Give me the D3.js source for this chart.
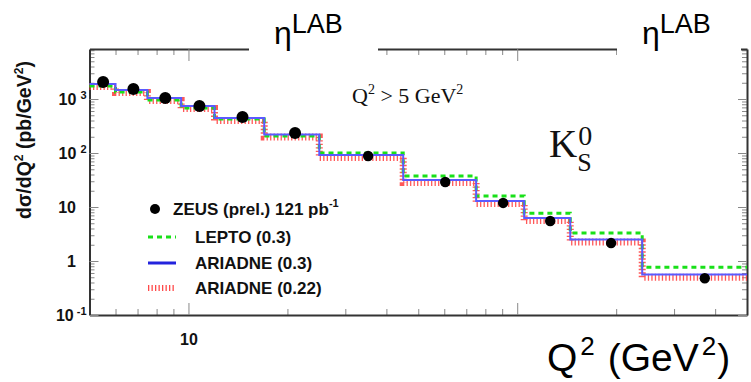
<!DOCTYPE html>
<html>
<head>
<meta charset="utf-8">
<script src="https://cdn.jsdelivr.net/npm/d3@7"></script>
<style>
  html, body { margin: 0; padding: 0; background: #fff; }
  svg { display: block; }
</style>
</head>
<body>
<div id="chart"></div>
<script>
// K0s cross section vs Q2 (ZEUS prel.), log-log step histograms

var binEdges   = [5, 6, 7.5, 9.5, 12, 17, 25, 45, 75, 105, 145, 240, 500];
var lepto      = [1740, 1350, 960, 680, 425, 206, 100, 37.5, 16, 7.7, 3.3, 0.77];
var ariadne03  = [1900, 1470, 1045, 740, 445, 220, 92, 31.6, 12.9, 6.25, 2.5, 0.56];
var ariadne022 = [1700, 1320, 940, 665, 400, 198, 83, 28.4, 11.6, 5.6, 2.25, 0.5];
var zeusQ2     = [5.5, 6.8, 8.5, 10.8, 14.6, 21.1, 35.2, 60.4, 90.6, 126, 193, 372];
var zeusXsec   = [2065, 1530, 1045, 740, 465, 235, 88, 29, 11.9, 5.5, 2.15, 0.48];

var xMajor = [10, 100];
var xMinor = [6, 7, 8, 9, 20, 30, 40, 50, 60, 70, 80, 90, 200, 300, 400];
var yMajor = [0.1, 1, 10, 100, 1000];
var yLabels = [["10", "-1"], ["1", ""], ["10", ""], ["10", "2"], ["10", "3"]];
var legendNames = ["ZEUS (prel.) 121 pb", "LEPTO (0.3)", "ARIADNE (0.3)", "ARIADNE (0.22)"];

var W = 751, H = 382;
var svg = d3.select("#chart").append("svg")
    .attr("width", W)
    .attr("height", H);

var x = d3.scaleLog().domain([5, 500]).range([89.5, 747]);
var y = d3.scaleLog().domain([0.1, 8440]).range([315, 49]);

var yMinor = [];
for (var e = -1; e <= 3; e++) {
  for (var m = 2; m <= 9; m++) {
    var v = m * Math.pow(10, e);
    if (v < 8440) yMinor.push(v);
  }
}

var axisColor = "#333";
var tickColor = "#888";
var sans = "Liberation Sans, Arial, sans-serif";
var serif = "Liberation Serif, Times New Roman, serif";

function styleAxis(g, showDomain) {
  g.select(".domain").attr("stroke", showDomain ? axisColor : "none").attr("stroke-width", 2);
  g.selectAll(".tick line").attr("stroke", tickColor).attr("stroke-width", 1);
}

// minor ticks on all four sides
svg.append("g").attr("transform", "translate(0,315)")
  .call(d3.axisBottom(x).tickValues(xMinor).tickSize(-6).tickSizeOuter(0).tickFormat(""))
  .call(styleAxis, false);
svg.append("g").attr("transform", "translate(0,49)")
  .call(d3.axisTop(x).tickValues(xMinor).tickSize(-6).tickSizeOuter(0).tickFormat(""))
  .call(styleAxis, false);
svg.append("g").attr("transform", "translate(89.5,0)")
  .call(d3.axisLeft(y).tickValues(yMinor).tickSize(-5).tickSizeOuter(0).tickFormat(""))
  .call(styleAxis, false);
svg.append("g").attr("transform", "translate(747,0)")
  .call(d3.axisRight(y).tickValues(yMinor).tickSize(-5).tickSizeOuter(0).tickFormat(""))
  .call(styleAxis, false);

// major ticks + frame
var xAxisG = svg.append("g").attr("transform", "translate(0,315)")
  .call(d3.axisBottom(x).tickValues(xMajor).tickSize(-12).tickSizeOuter(0)
    .tickFormat(function(d) { return d === 10 ? "10" : ""; }))
  .call(styleAxis, true);
xAxisG.selectAll(".tick text")
  .attr("y", 19).attr("dy", "0.71em")
  .attr("font-family", sans)
  .attr("font-weight", "bold").attr("font-size", 16).attr("fill", "#111");

svg.append("g").attr("transform", "translate(0,49)")
  .call(d3.axisTop(x).tickValues(xMajor).tickSize(-12).tickSizeOuter(0).tickFormat(""))
  .call(styleAxis, true);

var yAxisG = svg.append("g").attr("transform", "translate(89.5,0)")
  .call(d3.axisLeft(y).tickValues(yMajor).tickSize(-9).tickSizeOuter(0).tickFormat(""))
  .call(styleAxis, true);
yAxisG.selectAll(".tick").each(function(d, i) {
  var lab = yLabels[i];
  var t = d3.select(this).append("text")
    .attr("text-anchor", "end")
    .attr("x", lab[1] ? -3 : -13.5)
    .attr("dy", "0.35em")
    .attr("font-family", sans)
    .attr("font-weight", "bold").attr("font-size", 16).attr("fill", "#111");
  t.append("tspan").text(lab[0]);
  if (lab[1]) {
    t.append("tspan").attr("dx", lab[1] === "-1" ? 3 : 4).attr("dy", "-0.6em")
      .attr("font-size", 11).text(lab[1]);
  }
});

svg.append("g").attr("transform", "translate(747,0)")
  .call(d3.axisRight(y).tickValues(yMajor).tickSize(-9).tickSizeOuter(0).tickFormat(""))
  .call(styleAxis, true);

// step histograms
function stepPoints(vals) {
  var pts = vals.map(function(v, i) { return [binEdges[i], v]; });
  pts.push([binEdges[binEdges.length - 1], vals[vals.length - 1]]);
  return pts;
}
var step = d3.line()
  .x(function(d) { return x(d[0]); })
  .y(function(d) { return y(d[1]); })
  .curve(d3.curveStepAfter);

svg.append("path").datum(stepPoints(ariadne022))
  .attr("d", step).attr("fill", "none")
  .attr("stroke", "#ff3b3b").attr("stroke-width", 7)
  .attr("stroke-dasharray", "1.3,2.2").attr("stroke-opacity", 0.85);

svg.append("path").datum(stepPoints(lepto))
  .attr("d", step).attr("fill", "none")
  .attr("stroke", "#19e019").attr("stroke-width", 3)
  .attr("stroke-dasharray", "5,4");

svg.append("path").datum(stepPoints(ariadne03))
  .attr("d", step).attr("fill", "none")
  .attr("stroke", "#5a5aff").attr("stroke-width", 2);

// data points
svg.append("g").selectAll("circle")
  .data(zeusQ2)
  .join("circle")
  .attr("cx", function(d) { return x(d); })
  .attr("cy", function(d, i) { return y(zeusXsec[i]); })
  .attr("r", function(d, i) { return i < 6 ? 6 : 5.2; })
  .attr("fill", "#000");

// legend
var legY = [209, 237, 263, 288];
var leg = svg.append("g");
leg.append("circle").attr("cx", 155).attr("cy", legY[0]).attr("r", 5).attr("fill", "#000");
var zt = leg.append("text").attr("x", 173).attr("y", legY[0] + 6)
  .attr("font-family", sans).attr("font-weight", "bold").attr("font-size", 17).attr("fill", "#111");
zt.append("tspan").text(legendNames[0]);
zt.append("tspan").attr("dy", -8).attr("font-size", 11).text("-1");

leg.append("line").attr("x1", 148).attr("x2", 176).attr("y1", legY[1]).attr("y2", legY[1])
  .attr("stroke", "#19e019").attr("stroke-width", 3).attr("stroke-dasharray", "5,4");
leg.append("line").attr("x1", 148).attr("x2", 176).attr("y1", legY[2]).attr("y2", legY[2])
  .attr("stroke", "#2323dd").attr("stroke-width", 3);
leg.append("line").attr("x1", 148).attr("x2", 176).attr("y1", legY[3]).attr("y2", legY[3])
  .attr("stroke", "#ff4a4a").attr("stroke-width", 6).attr("stroke-dasharray", "1.3,2.2");

for (var k = 1; k < 4; k++) {
  leg.append("text").attr("x", 195).attr("y", legY[k] + 6)
    .attr("font-family", sans).attr("font-weight", "bold").attr("font-size", 17)
    .attr("fill", "#111").text(legendNames[k]);
}

// annotations
var qt = svg.append("text").attr("x", 352).attr("y", 103)
  .attr("font-family", serif).attr("font-size", 22).attr("fill", "#111");
qt.append("tspan").text("Q");
qt.append("tspan").attr("dy", -9).attr("font-size", 14).text("2");
qt.append("tspan").attr("dy", 9).text(" > 5 GeV");
qt.append("tspan").attr("dy", -9).attr("font-size", 14).text("2");

var kt = svg.append("text").attr("x", 549).attr("y", 157)
  .attr("font-family", serif).attr("font-size", 39).attr("fill", "#111");
kt.append("tspan").text("K");
kt.append("tspan").attr("dx", 1).attr("dy", -12).attr("font-size", 28).text("0");
kt.append("tspan").attr("dx", -15).attr("dy", 26).attr("font-size", 26).text("S");

// y axis title
var yt = svg.append("text")
  .attr("transform", "translate(31,140) rotate(-90)")
  .attr("text-anchor", "middle")
  .attr("font-family", sans).attr("font-weight", "bold").attr("font-size", 19.5).attr("fill", "#111");
yt.append("tspan").text("d\u03C3/dQ");
yt.append("tspan").attr("dy", -8).attr("font-size", 12).text("2");
yt.append("tspan").attr("dy", 8).text(" (pb/GeV");
yt.append("tspan").attr("dy", -8).attr("font-size", 12).text("2");
yt.append("tspan").attr("dy", 8).text(")");

// overlaid label boxes
[[249, 378, 274], [617, 741, 642]].forEach(function(b) {
  svg.append("rect").attr("x", b[0]).attr("y", 0).attr("width", b[1] - b[0]).attr("height", 63).attr("fill", "#fff");
  var t = svg.append("text").attr("x", b[2]).attr("y", 44)
    .attr("font-family", sans).attr("font-size", 32).attr("fill", "#000");
  t.append("tspan").text("\u03B7");
  t.append("tspan").attr("dy", -11).attr("font-size", 27).text("LAB");
});

svg.append("rect").attr("x", 505).attr("y", 322).attr("width", 246).attr("height", 60).attr("fill", "#fff");
var xt = svg.append("text").attr("x", 547).attr("y", 371)
  .attr("font-family", sans).attr("font-size", 39).attr("fill", "#000");
xt.append("tspan").text("Q");
xt.append("tspan").attr("dx", 3).attr("dy", -16).attr("font-size", 26).text("2");
xt.append("tspan").attr("dx", 2).attr("dy", 16).text(" (GeV");
xt.append("tspan").attr("dx", 3).attr("dy", -16).attr("font-size", 26).text("2");
xt.append("tspan").attr("dx", 1).attr("dy", 16).text(")");
</script>
</body>
</html>
